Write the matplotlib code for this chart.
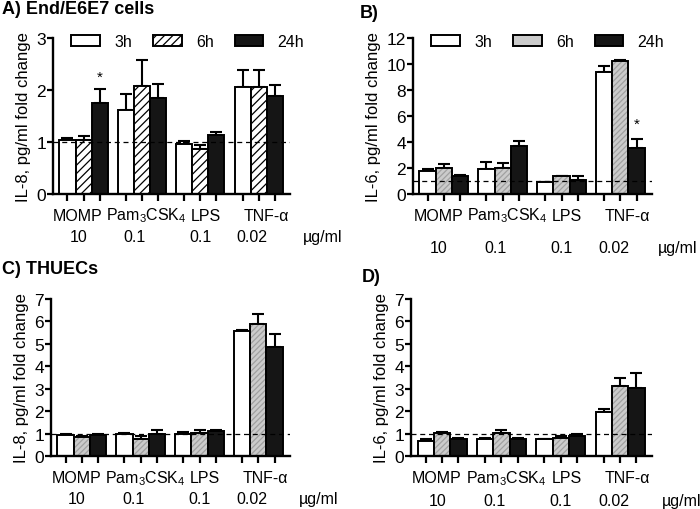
import numpy as np
import matplotlib
matplotlib.use("Agg")
import matplotlib.pyplot as plt
from matplotlib.patches import Patch
from matplotlib.transforms import blended_transform_factory

plt.rcParams["font.family"] = ["Liberation Sans", "DejaVu Sans"]
plt.rcParams["mathtext.fontset"] = "custom"
plt.rcParams["mathtext.rm"] = "Liberation Sans"
plt.rcParams["mathtext.it"] = "Liberation Sans:italic"
plt.rcParams["hatch.linewidth"] = 0.9

# ---- data ----
treatments = ["MOMP", "Pam$_3$CSK$_4$", "LPS", "TNF-\u03b1"]
doses = ["10", "0.1", "0.1", "0.02"]
times = ["3h", "6h", "24h"]

a_3h = [1.03, 1.62, 0.96, 2.06]
a_3h_err = [0.05, 0.31, 0.06, 0.32]
a_6h = [1.04, 2.07, 0.87, 2.06]
a_6h_err = [0.07, 0.51, 0.08, 0.32]
a_24h = [1.75, 1.85, 1.14, 1.89]
a_24h_err = [0.27, 0.26, 0.06, 0.21]

b_3h = [1.80, 1.93, 0.90, 9.38]
b_3h_err = [0.12, 0.50, 0.05, 0.44]
b_6h = [1.98, 1.98, 1.36, 10.20]
b_6h_err = [0.35, 0.38, 0.05, 0.08]
b_24h = [1.41, 3.73, 1.10, 3.55]
b_24h_err = [0.05, 0.33, 0.25, 0.69]

c_3h = [0.95, 0.97, 1.00, 5.56]
c_3h_err = [0.04, 0.07, 0.05, 0.08]
c_6h = [0.85, 0.75, 1.04, 5.89]
c_6h_err = [0.05, 0.14, 0.10, 0.44]
c_24h = [0.92, 1.00, 1.12, 4.84]
c_24h_err = [0.04, 0.16, 0.05, 0.60]

d_3h = [0.67, 0.77, 0.74, 1.98]
d_3h_err = [0.07, 0.03, 0.03, 0.10]
d_6h = [1.04, 1.01, 0.82, 3.13]
d_6h_err = [0.04, 0.13, 0.07, 0.33]
d_24h = [0.77, 0.77, 0.89, 3.05]
d_24h_err = [0.04, 0.03, 0.08, 0.67]

GROUP_STEP = 3.63
EDGE_LW = 1.4
FS = 11.5
GRAY = "#cbcbcb"
GRAY_HATCH = "#a0a0a0"


def draw_panel(ax, means, errs, ymax, ystep, ylabel, striped, stars=(), legend=False,
               unit_off=4.8, dose_y=-0.27):
    groups = np.arange(len(treatments)) * GROUP_STEP
    centers = []
    for i, (m, e) in enumerate(zip(means, errs)):
        x = groups + i
        centers.extend(x)
        if i == 0:
            ax.bar(x, m, width=1.0, color="white", edgecolor="black", lw=EDGE_LW, zorder=2)
        elif i == 1:
            if striped:
                ax.bar(x, m, width=1.0, color="white", edgecolor="black", lw=0, hatch="////", zorder=2)
            else:
                ax.bar(x, m, width=1.0, color=GRAY, edgecolor=GRAY_HATCH, lw=0, hatch="//////", zorder=2)
            ax.bar(x, m, width=1.0, fill=False, edgecolor="black", lw=EDGE_LW, zorder=2.1)
        else:
            ax.bar(x, m, width=1.0, color="#151515", edgecolor="black", lw=EDGE_LW, zorder=2)
        ax.errorbar(x, m, yerr=[np.zeros(len(m)), e], fmt="none", ecolor="black",
                    elinewidth=1.5, capsize=4.5, capthick=1.5, zorder=1.9)

    ax.axhline(1, color="black", lw=0.9, ls=(0, (4, 3)), zorder=3)
    for gi, ti, y in stars:
        ax.text(groups[gi] + ti, y, "*", ha="center", va="center", fontsize=11)

    ax.set_xlim(-0.9, groups[-1] + 2 + 0.95)
    ax.set_ylim(0, ymax)
    ax.set_yticks(np.arange(0, ymax + 0.01, ystep))
    ax.set_xticks(centers)
    ax.set_xticklabels([])
    for s in ["top", "right"]:
        ax.spines[s].set_visible(False)
    for s in ["left", "bottom"]:
        ax.spines[s].set_linewidth(1.7)
    ax.tick_params(axis="y", direction="out", length=4, width=1.6, labelsize=12.5, pad=1)
    ax.tick_params(axis="x", direction="out", length=5, width=1.6)
    ax.set_ylabel(ylabel, fontsize=12, labelpad=4)

    tr = blended_transform_factory(ax.transData, ax.transAxes)
    name_off = [-0.35, 0.3, 0.35, 0.45]
    dose_off = [-0.3, -0.45, 0.0, -0.4]
    for g, name, dose, no, do in zip(groups, treatments, doses, name_off, dose_off):
        ax.text(g + 1 + no, -0.135, name, transform=tr, ha="center", va="center", fontsize=FS)
        ax.text(g + 1 + do, dose_y, dose, transform=tr, ha="center", va="center", fontsize=FS)
    ax.text(groups[-1] + unit_off, dose_y, "\u00b5g/ml", transform=tr, ha="center", va="center",
            fontsize=FS)

    if legend:
        handles = [
            Patch(facecolor="white", edgecolor="black", lw=EDGE_LW),
            Patch(facecolor="white" if striped else GRAY, edgecolor="black",
                  lw=EDGE_LW, hatch="////" if striped else None),
            Patch(facecolor="#151515", edgecolor="black", lw=EDGE_LW),
        ]
        ax.legend(handles, times, ncol=3, loc="upper left", bbox_to_anchor=(0.05, 1.065),
                  frameon=False, fontsize=FS, handlelength=1.8, handleheight=0.65,
                  handletextpad=0.9, columnspacing=1.3, borderaxespad=0)


fig = plt.figure(figsize=(7, 5.1), dpi=100)
ax_a = fig.add_axes([53 / 700, 1 - 195 / 510, 237 / 700, 156 / 510])
ax_b = fig.add_axes([413 / 700, 1 - 195 / 510, 239 / 700, 156 / 510])
ax_c = fig.add_axes([51 / 700, 1 - 457 / 510, 239 / 700, 157 / 510])
ax_d = fig.add_axes([411 / 700, 1 - 457 / 510, 241 / 700, 157 / 510])

draw_panel(ax_a, [a_3h, a_6h, a_24h], [a_3h_err, a_6h_err, a_24h_err], 3, 1,
           "IL-8, pg/ml fold change", striped=True, stars=[(0, 2, 2.25)], legend=True,
           unit_off=5.0)
draw_panel(ax_b, [b_3h, b_6h, b_24h], [b_3h_err, b_6h_err, b_24h_err], 12, 2,
           "IL-6, pg/ml fold change", striped=False, stars=[(3, 2, 5.4)], legend=True,
           unit_off=4.55, dose_y=-0.34)
draw_panel(ax_c, [c_3h, c_6h, c_24h], [c_3h_err, c_6h_err, c_24h_err], 7, 1,
           "IL-8, pg/ml fold change", striped=False, unit_off=4.7)
draw_panel(ax_d, [d_3h, d_6h, d_24h], [d_3h_err, d_6h_err, d_24h_err], 7, 1,
           "IL-6, pg/ml fold change", striped=False, unit_off=4.75, dose_y=-0.285)

title_kw = dict(fontsize=13, fontweight="bold", va="center", ha="left")
fig.text(2 / 700, 1 - 10 / 510, "A) End/E6E7 cells", **title_kw)
fig.text(360 / 700, 1 - 13 / 510, "B)", **title_kw)
fig.text(2 / 700, 1 - 270 / 510, "C) THUECs", **title_kw)
fig.text(362 / 700, 1 - 278 / 510, "D)", **title_kw)

fig.savefig("out.png", dpi=100)
